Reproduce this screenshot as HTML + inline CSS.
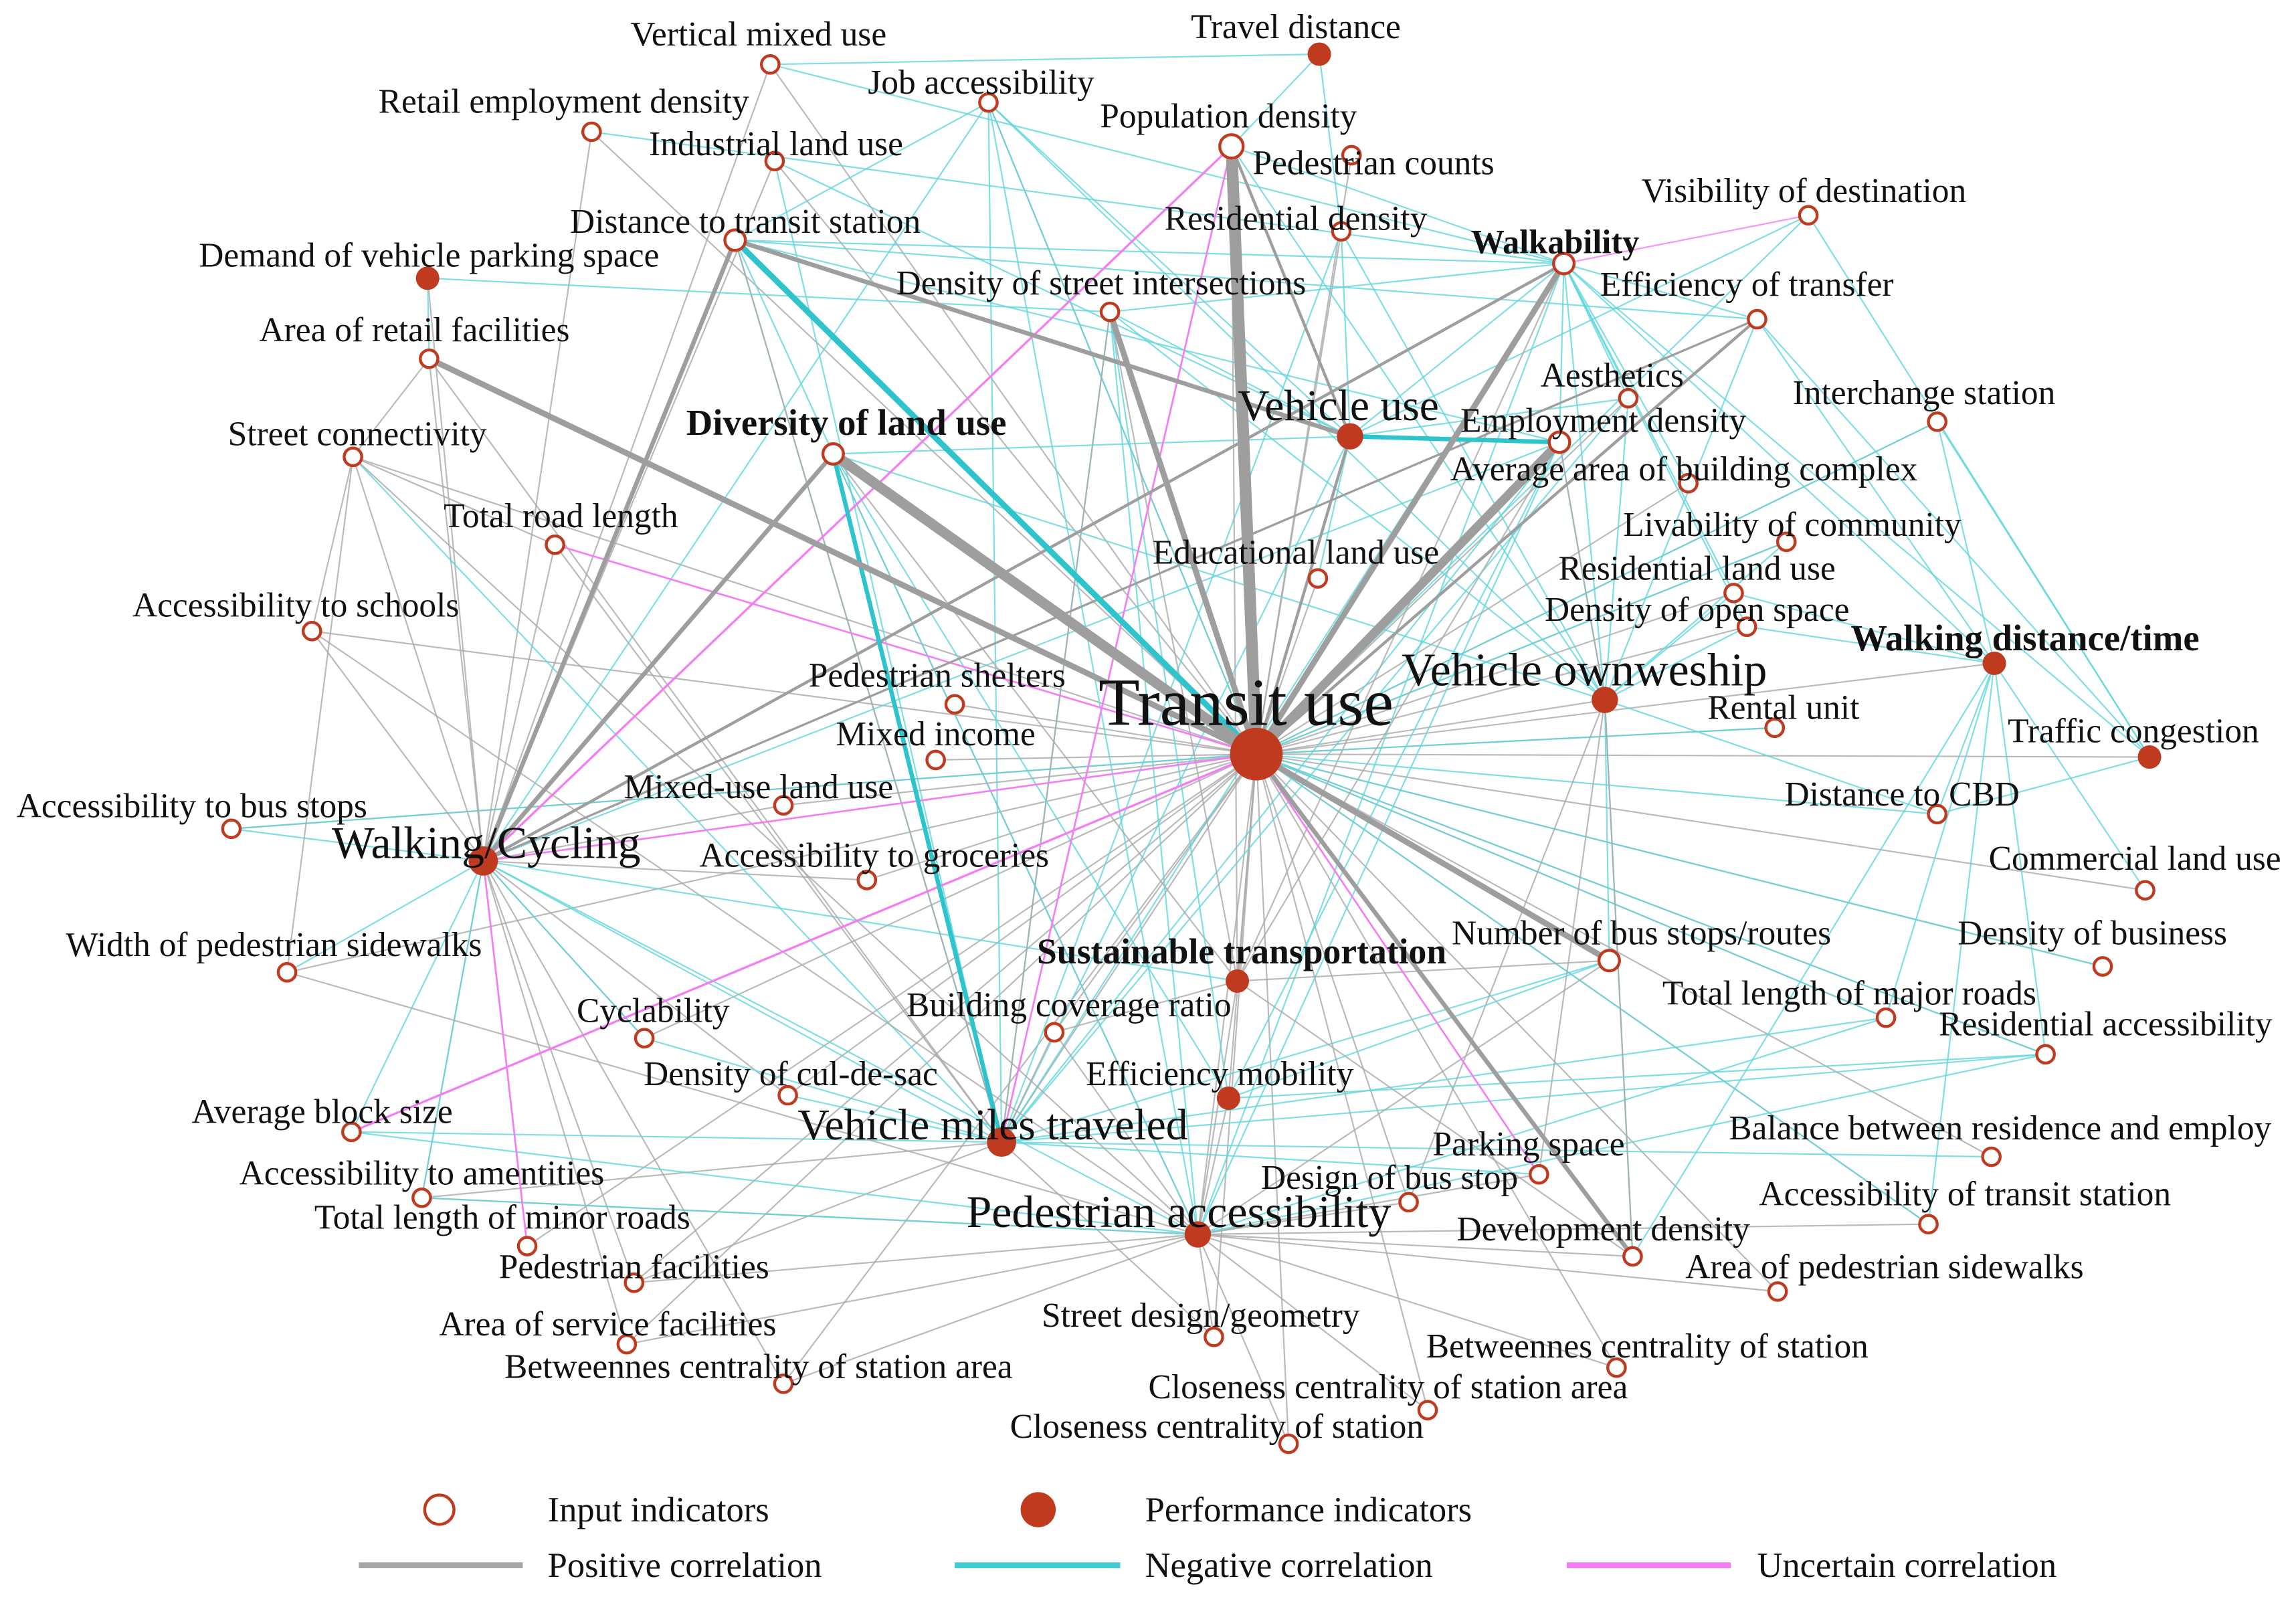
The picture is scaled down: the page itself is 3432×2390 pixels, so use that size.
<!DOCTYPE html>
<html><head><meta charset="utf-8"><style>
html,body{margin:0;padding:0;background:#fff;}
svg{display:block;}
text{font-family:"Liberation Serif",serif;fill:#111;text-anchor:middle;}
</style></head><body>
<svg id="s" width="3432" height="2390" viewBox="0 0 1568 1092" xmlns="http://www.w3.org/2000/svg">
<rect width="1568" height="1092" fill="#fff"/>
<g id="edges" stroke-linecap="round"></g>
<g id="nodes"></g>
<g font-size="23.5">
<text x="518" y="31">Vertical mixed use</text>
<text x="670" y="64">Job accessibility</text>
<text x="385" y="77">Retail employment density</text>
<text x="530" y="106">Industrial land use</text>
<text x="839" y="87">Population density</text>
<text x="938" y="119">Pedestrian counts</text>
<text x="885" y="26">Travel distance</text>
<text x="1232" y="138">Visibility of  destination</text>
<text x="509" y="159">Distance to transit station</text>
<text x="885" y="157">Residential density</text>
<text x="1062" y="173" font-size="23" font-weight="bold">Walkability</text>
<text x="1193" y="202">Efficiency of transfer</text>
<text x="752" y="201">Density of street intersections</text>
<text x="293" y="182">Demand of vehicle parking space</text>
<text x="283" y="233">Area of retail facilities</text>
<text x="1101" y="264">Aesthetics</text>
<text x="1314" y="276">Interchange station</text>
<text x="1095" y="295">Employment density</text>
<text x="244" y="304">Street connectivity</text>
<text x="578" y="297" font-size="25" font-weight="bold">Diversity of land use</text>
<text x="914" y="287" font-size="30">Vehicle use</text>
<text x="1150" y="328">Average area of building complex</text>
<text x="383" y="360">Total road length</text>
<text x="1224" y="366">Livability of community</text>
<text x="885" y="385">Educational land use</text>
<text x="1159" y="396">Residential land use</text>
<text x="202" y="421">Accessibility to schools</text>
<text x="1159" y="424">Density of open space</text>
<text x="1383" y="444" font-size="25" font-weight="bold">Walking distance/time</text>
<text x="1082" y="468" font-size="32">Vehicle ownweship</text>
<text x="851" y="495" font-size="46">Transit use</text>
<text x="640" y="469">Pedestrian shelters</text>
<text x="1218" y="491">Rental unit</text>
<text x="1457" y="507">Traffic congestion</text>
<text x="639" y="509">Mixed income</text>
<text x="518" y="545">Mixed-use land use</text>
<text x="1299" y="550">Distance to CBD</text>
<text x="131" y="558">Accessibility to bus stops</text>
<text x="332" y="586" font-size="31">Walking/Cycling</text>
<text x="597" y="592">Accessibility to groceries</text>
<text x="1458" y="594">Commercial land use</text>
<text x="187" y="653">Width of pedestrian sidewalks</text>
<text x="1429" y="645">Density of business</text>
<text x="1121" y="645">Number of bus stops/routes</text>
<text x="848" y="658" font-size="24.5" font-weight="bold">Sustainable transportation</text>
<text x="1263" y="686">Total length of major roads</text>
<text x="730" y="694">Building coverage ratio</text>
<text x="446" y="698">Cyclability</text>
<text x="1438" y="707">Residential accessibility</text>
<text x="540" y="741">Density of cul-de-sac</text>
<text x="833" y="741">Efficiency mobility</text>
<text x="220" y="767">Average block size</text>
<text x="678" y="778" font-size="30">Vehicle miles traveled</text>
<text x="1366" y="778">Balance between residence and employ</text>
<text x="1044" y="789">Parking space</text>
<text x="288" y="809">Accessibility to amentities</text>
<text x="949" y="812">Design of bus stop</text>
<text x="1342" y="823">Accessibility of transit station</text>
<text x="805" y="838" font-size="31">Pedestrian accessibility</text>
<text x="343" y="839">Total length of minor roads</text>
<text x="1095" y="847">Development density</text>
<text x="433" y="873">Pedestrian facilities</text>
<text x="1287" y="873">Area of pedestrian sidewalks</text>
<text x="820" y="906">Street design/geometry</text>
<text x="415" y="912">Area of service facilities</text>
<text x="1125" y="927">Betweennes centrality of station</text>
<text x="518" y="941">Betweennes centrality of station area</text>
<text x="948" y="955">Closeness centrality of station area</text>
<text x="831" y="982">Closeness centrality of station</text>
</g>
<g font-size="24">
<circle cx="300" cy="1031" r="10" fill="#fff" stroke="#bf3a1f" stroke-width="2"/>
<text x="374" y="1039" style="text-anchor:start">Input indicators</text>
<circle cx="709" cy="1031" r="12" fill="#bf3a1f"/>
<text x="782" y="1039" style="text-anchor:start">Performance indicators</text>
<line x1="245" y1="1069" x2="357" y2="1069" stroke="#a6a6a6" stroke-width="4"/>
<text x="374" y="1077" style="text-anchor:start">Positive correlation</text>
<line x1="652" y1="1069" x2="765" y2="1069" stroke="#3fcdd3" stroke-width="4"/>
<text x="782" y="1077" style="text-anchor:start">Negative correlation</text>
<line x1="1070" y1="1069" x2="1182" y2="1069" stroke="#f47cf4" stroke-width="4"/>
<text x="1200" y="1077" style="text-anchor:start">Uncertain correlation</text>
</g>
<script>
var N={TU:[858,515,18,1],WC:[330,588,10,1],VMT:[684,780,10,1],PA:[818,843,9,1],VO:[1096,478,9,1],VU:[922,298,9,1],ST:[845,670,8,1],EM:[839,750,8,1],WD:[1362,453,8,1],TC:[1468,517,8,1],TD:[901,37,8,1],DVP:[292,190,8,1],
VMU:[526,44,7],JA:[675,70,7],RED:[404,90,7],ILU:[529,110,7],PD:[841,100,9],PC:[923,106,7],VD:[1235,147,7],DTS:[502,164,8],RD:[916,158,7],WK:[1068,180,8],ET:[1200,218,7],DSI:[758,213,7],ARF:[293,245,7],AES:[1112,272,7],IS:[1323,288,7],ED:[1065,302,8],SC:[241,312,7],DLU:[569,310,8],AAB:[1153,330,7],TRL:[379,372,7],LC:[1220,370,7],ELU:[900,395,7],RLU:[1184,405,7],AS:[213,431,7],DOS:[1193,428,7],PSH:[652,481,7],RU:[1212,497,7],MI:[639,519,7],MLU:[535,550,7],DCBD:[1323,556,7],ABS:[158,566,7],AG:[592,601,7],CLU:[1465,608,7],WPS:[196,664,7],DB:[1436,660,7],NBS:[1099,656,8],TLMR:[1288,695,7],CYC:[440,709,7],BCR:[720,705,7],RA:[1397,720,7],DCS:[538,748,7],ABSZ:[240,773,7],BRE:[1360,790,7],PS:[1051,802,7],AA:[288,818,7],DBS:[962,821,7],ATS:[1317,836,7],TLMN:[360,851,7],DD:[1115,858,7],PF:[433,876,7],APS:[1214,882,7],SDG:[829,913,7],ASF:[428,918,7],BCS:[1104,934,7],BCSA:[535,945,7],CCSA:[975,963,7],CCS:[880,986,7]};
var C={g:"#a9a9a9",c:"#5fd6dc",p:"#f47cf4",G:"#9e9e9e",C:"#2ec4cc"};
var E=[];
function add(a,list,col,w){list.split(" ").forEach(function(b){E.push([a,b,col,w||1]);});}
add("TU","VMU JA RED ILU PC RD AES AAB ELU RLU PSH MI MLU AG CYC BCR DCS WPS ABS AS SC TLMN PF ASF BCSA SDG CCS CCSA BCS APS DD DBS ATS BRE RA TLMR DB CLU RU DOS LC IS VO ST EM PA VMT TC WD","g",1);
add("TU","JA VD IS DCBD RA DB LC ET RU ABS TLMR ATS","c",1);
add("WC","RED VMU SC TRL AS ARF DVP TLMN PF AA ASF BCSA DCS CYC AG MLU ILU","g",1);
add("WC","ABS WPS CYC ABSZ AA ED JA ET VMT PA ST","c",1);
add("VMT","DTS DSI JA ILU PD RD ED WK AES CYC DCS ABSZ TLMR RA BRE NBS PS VU SC","c",1);
add("VMT","DTS ARF DSI TRL PF AA BCR SDG","g",1);
add("PA","SC AS WPS AA PF ASF BCSA SDG CCS CCSA BCS APS DD ATS DBS PS NBS BCR EM ST DLU","g",1);
add("PA","DLU DSI JA WK ED ABSZ AA TLMR RA","c",1);
add("VU","DTS DSI PD JA RD AES ED DLU WK VD ILU ELU","c",1);
add("VO","PD RD DSI ED AES DLU DOS RLU LC WK ET DCBD NBS DD JA","c",1);
add("VO","ED DD DBS PS","g",1);
add("WK","DSI PD VMU RED ED AES AAB DOS RLU ET TC WD","c",1);
add("WD","ET IS DOS RLU DCBD CLU TLMR RA ATS DD","c",1);
add("TC","ET VD IS DCBD","c",1);
add("ST","DLU DSI PD WK ED NBS DD BCR","g",1);
add("EM","DLU DSI ED RA NBS","c",1);
add("TD","VMU PD RD","c",1);
add("DVP","ARF DSI","c",1);
add("DTS","JA VU ED WK DLU ET","c",1);
add("SC","ARF TRL AS WPS","g",1);
E.push(["PD","WC","p",1.5],["PD","VMT","p",1.2],["TRL","TU","p",1.2],["ABSZ","TU","p",1.5],["TU","PS","p",1.2],["VD","WK","p",1],["WC","TLMN","p",1.2],["WC","TU","p",1.2]);
E.push(["TU","PD","G",8],["TU","DLU","G",7],["TU","ED","G",6],["TU","WK","G",4],["TU","DSI","G",4],["TU","DTS","C",4],["TU","ARF","G",4],["TU","NBS","G",4],["TU","DD","G",3],["DTS","VU","G",3],["WC","DTS","G",3],["WC","DLU","G",3],["WC","WK","G",2],["VU","ED","C",3],["VMT","DLU","C",3],["VU","PD","G",2],["TU","VU","G",2],["WC","ET","G",1.5],["TU","ET","G",2]);
var ns="http://www.w3.org/2000/svg",g=document.getElementById("edges");
E.sort(function(a,b){return a[3]-b[3];});
E.forEach(function(e){var a=N[e[0]],b=N[e[1]];if(!a||!b)return;var l=document.createElementNS(ns,"line");
l.setAttribute("x1",a[0]);l.setAttribute("y1",a[1]);l.setAttribute("x2",b[0]);l.setAttribute("y2",b[1]);
l.setAttribute("stroke",C[e[2]]);l.setAttribute("stroke-width",e[3]);if(e[3]<=1)l.setAttribute("stroke-opacity","0.8");g.appendChild(l);});
var ng=document.getElementById("nodes");
for(var k in N){var n=N[k],c=document.createElementNS(ns,"circle");c.setAttribute("cx",n[0]);c.setAttribute("cy",n[1]);c.setAttribute("r",n[3]?n[2]:n[2]-1);
if(n[3]){c.setAttribute("fill","#bf3a1f");}else{c.setAttribute("fill","#fff");c.setAttribute("stroke","#bf3a1f");c.setAttribute("stroke-width","2");}
ng.appendChild(c);}
</script>
</svg>
</body></html>
